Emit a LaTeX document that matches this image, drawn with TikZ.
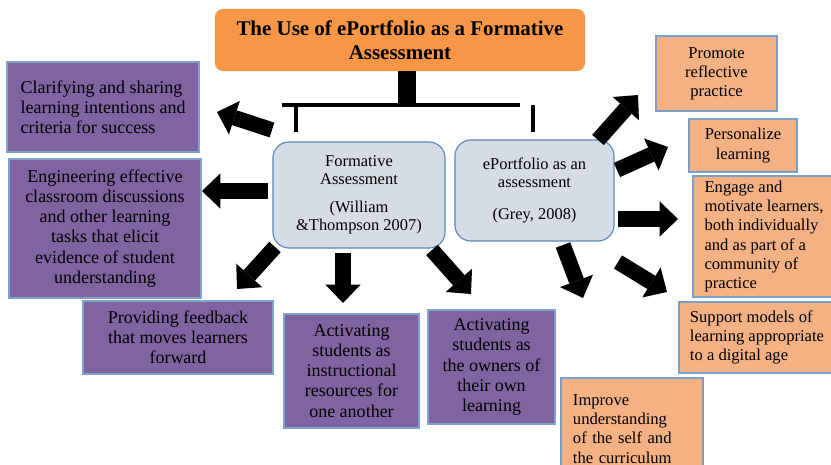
\documentclass[tikz,border=0pt]{standalone}
\usepackage{fontspec}
\setmainfont{Liberation Serif}
\usepackage{tikz}
\usetikzlibrary{arrows.meta}
\usepackage{xcolor}
\definecolor{mTitleOrange}{HTML}{F79646}
\definecolor{mPeach}{HTML}{F4B183}
\definecolor{mPurple}{HTML}{8064A2}
\definecolor{mSlate}{HTML}{D6DCE5}
\definecolor{mEdgeBlue}{HTML}{5B87BB}
\definecolor{mEdgeLight}{HTML}{7FA3CC}

\begin{document}
\begin{tikzpicture}[x=0.025cm, y=-0.025cm,
    purplebox/.style={draw=mEdgeLight, fill=mPurple, line width=0.8pt, inner sep=0pt, align=center, font=\fontsize{12.8}{14.3}\selectfont},
    peachbox/.style={draw=mEdgeBlue!80, fill=mPeach, line width=0.8pt, inner sep=0pt, align=center, font=\fontsize{11.8}{13.6}\selectfont},
    sourcebox/.style={draw=mEdgeBlue, fill=mSlate, rounded corners=0.4cm, line width=0.8pt, inner sep=0pt, align=center, font=\fontsize{11.7}{12.8}\selectfont},
    blockarrow/.style={line width=11pt, -{Triangle[length=13pt, width=25pt, line width=0pt]}},
    bar/.style={line width=2.4pt}]
  \useasboundingbox (0,0) rectangle (831,465);
  \node[fill=mTitleOrange, rounded corners=0.2cm, minimum width=9.25cm, minimum height=1.55cm, align=center, font=\fontsize{14.9}{17}\selectfont\bfseries] (title) at (400,40) {The Use of ePortfolio as a Formative\\Assessment};
  \node[sourcebox, minimum width=4.3cm, minimum height=2.65cm] (fa) at (359,195) {Formative\\Assessment\\[7pt](William\\\&Thompson 2007)};
  \node[sourcebox, minimum width=3.975cm, minimum height=2.525cm] (ep) at (534.5,190.5) {ePortfolio as an\\assessment\\[10pt](Grey, 2008)};

  \node[purplebox, minimum width=4.8cm, minimum height=2.25cm, align=left] (clar) at (103,107) {Clarifying and sharing\\learning intentions and\\criteria for success};
  \node[purplebox, minimum width=4.8cm, minimum height=3.475cm] (eng) at (105,228.5) {Engineering effective\\classroom discussions\\and other learning\\tasks that elicit\\evidence of student\\understanding};
  \node[purplebox, minimum width=4.75cm, minimum height=1.825cm] (feed) at (178,337.5) {Providing feedback\\that moves learners\\forward};
  \node[purplebox, minimum width=3.375cm, minimum height=2.85cm] (instr) at (351.5,371) {Activating\\students as\\instructional\\resources for\\one another};
  \node[purplebox, minimum width=3.175cm, minimum height=2.85cm] (own) at (491.5,367) {Activating\\students as\\the owners of\\their own\\learning};

  \node[peachbox, minimum width=3.025cm, minimum height=1.875cm] (refl) at (716.5,73.5) {Promote\\reflective\\practice};
  \node[peachbox, minimum width=2.7cm, minimum height=1.325cm] (pers) at (743,145.5) {Personalize\\learning};
  \node[peachbox, minimum width=3.55cm, minimum height=3.025cm, align=left] (motiv) at (764,236.5) {Engage and\\motivate learners,\\both individually\\and as part of a\\community of\\practice};
  \node[peachbox, minimum width=3.9cm, minimum height=1.775cm, align=left] (supp) at (757,337.5) {Support models of\\learning appropriate\\to a digital age};
  \node[peachbox, text width=2.95cm, inner xsep=0.3cm, minimum height=2.55cm, align=left] (impr) at (632,429) {Improve\\understanding\\of the self and\\the curriculum};

  \coordinate (hub) at (407,105);
  \coordinate (hubL) at (282,105);
  \coordinate (hubR) at (520,105);
  \coordinate (tickL) at (296,132);
  \coordinate (tickR) at (533,132);
  \draw[line width=13.5pt] (title.south -| hub) -- ([yshift=-1pt]hub);
  \draw[bar] (hubL) -- (hubR);
  \draw[bar] (tickL |- hubL) -- (tickL);
  \draw[bar] (tickR |- hubL) -- (tickR);

  \coordinate (fa-o1) at (272,130);  \coordinate (clar-in) at (217,112);
  \coordinate (fa-o2) at (268,191);  \coordinate (eng-in) at (202,191);
  \coordinate (fa-o3) at (275,247);  \coordinate (feed-in) at (237,289);
  \coordinate (fa-o4) at (343,253);  \coordinate (instr-in) at (343,303);
  \coordinate (fa-o5) at (432,250);  \coordinate (own-in) at (471,294);
  \coordinate (ep-o1) at (563,245);  \coordinate (impr-in) at (583,298);
  \coordinate (ep-o2) at (618,262);  \coordinate (supp-in) at (667,292);
  \coordinate (ep-o3) at (618,219);  \coordinate (motiv-in) at (678,219);
  \coordinate (ep-o4) at (617,170);  \coordinate (pers-in) at (668,147);
  \coordinate (ep-o5) at (598,140);  \coordinate (refl-in) at (638,95);
  \draw[blockarrow] (fa-o1) -- (clar-in);
  \draw[blockarrow] (fa-o2) -- (eng-in);
  \draw[blockarrow] (fa-o3) -- (feed-in);
  \draw[blockarrow] (fa-o4) -- (instr-in);
  \draw[blockarrow] (fa-o5) -- (own-in);
  \draw[blockarrow] (ep-o1) -- (impr-in);
  \draw[blockarrow] (ep-o2) -- (supp-in);
  \draw[blockarrow] (ep-o3) -- (motiv-in);
  \draw[blockarrow] (ep-o4) -- (pers-in);
  \draw[blockarrow] (ep-o5) -- (refl-in);
\end{tikzpicture}
\end{document}
